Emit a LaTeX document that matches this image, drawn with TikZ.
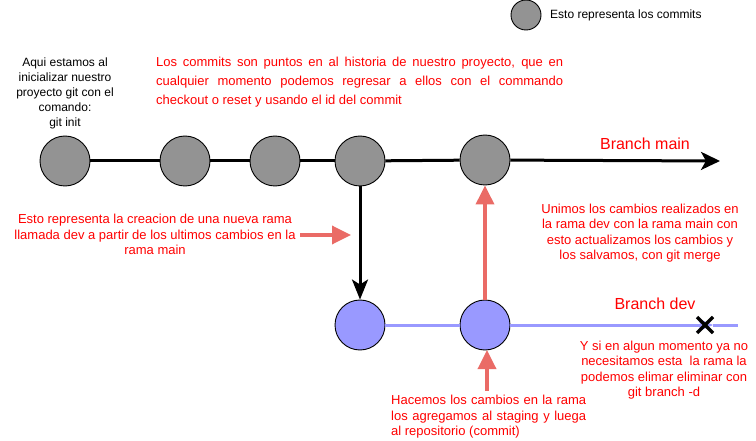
\documentclass[tikz,border=0pt]{standalone}
\usepackage{fontspec}
\setmainfont{Liberation Sans}
\usetikzlibrary{arrows.meta}
\definecolor{commitgray}{HTML}{939393}
\definecolor{devblue}{HTML}{9999FF}
\definecolor{notered}{HTML}{FF0000}
\definecolor{arrowred}{HTML}{EA6B66}
\begin{document}
\begin{tikzpicture}[x=1pt,y=-1pt,
  commit/.style={circle,draw=black,line width=0.9pt,fill=commitgray,minimum size=50pt,inner sep=0pt},
  devcommit/.style={circle,draw=black,line width=0.9pt,fill=devblue,minimum size=50pt,inner sep=0pt},
  mainline/.style={line width=3pt,black},
  devline/.style={line width=3pt,devblue},
  redarrow/.style={line width=3.5pt,arrowred,-{Triangle[length=19pt,width=18pt]}},
  txt/.style={inner sep=0pt,font=\fontsize{12}{15}\selectfont},
  redtxt/.style={inner sep=0pt,text=notered},
  branchlbl/.style={inner sep=0pt,text=notered,font=\fontsize{16}{19}\selectfont}]
\useasboundingbox (0,0) rectangle (756,441);
% legend
\node[commit,minimum size=30pt] (legend) at (526,15) {};
\node[txt,anchor=west] (legendtxt) at (550,15) {Esto representa los commits};
% main commits
\node[commit] (c1) at (65,161) {};
\node[commit] (c2) at (185,161) {};
\node[commit] (c3) at (275,161) {};
\node[commit] (c4) at (360,161) {};
\node[commit] (c5) at (485,160) {};
\coordinate (mainend) at (720,161);
\draw[mainline] (c1) -- (c2);
\draw[mainline] (c2) -- (c3);
\draw[mainline] (c3) -- (c4);
\draw[mainline] (c4) -- (c5);
\draw[mainline,-{Stealth[length=19pt,width=18pt,inset=5pt]}] (c5) -- (mainend);
% dev commits
\node[devcommit] (d1) at (360,325) {};
\node[devcommit] (d2) at (485,325) {};
\coordinate (devtip) at (713,325);
\coordinate (devend) at (738,325);
\draw[devline] (d1) -- (d2);
\draw[devline,-{Stealth[length=16pt,width=14pt,inset=4pt]}] (d2) -- (devtip);
\draw[devline] (devtip) -- (devend);
% X mark
\coordinate (xm) at (705,325);
\draw[line width=3.5pt,black] ([shift={(-8,-8)}]xm) -- ([shift={(8,8)}]xm);
\draw[line width=3.5pt,black] ([shift={(-8,8)}]xm) -- ([shift={(8,-8)}]xm);
% branching arrow
\draw[mainline,-{Stealth[length=20pt,width=16pt,inset=5pt]}] (c4) -- (d1);
% merge arrow
\draw[redarrow] (d2) -- (c5);
% red pointer arrows
\coordinate (hstart) at (300,235);
\coordinate (hend) at (351,235);
\draw[redarrow] (hstart) -- (hend);
\coordinate (vstart) at (487,391);
\coordinate (vend) at (487,350);
\draw[redarrow] (vstart) -- (vend);
% labels
\node[branchlbl] (bmain) at (645,144) {Branch main};
\node[branchlbl] (bdev) at (655,304) {Branch dev};
\node[txt,align=center,anchor=north] (init) at (65,58)
  {Aqui estamos al\\inicializar nuestro\\proyecto git con el\\comando:\\git init};
\node[redtxt,anchor=north west,align=left,font=\fontsize{13}{19}\selectfont] (para) at (156,57)
  {\makebox[407pt][s]{Los commits son puntos en al historia de nuestro proyecto, que en}\\
   \makebox[407pt][s]{cualquier momento podemos regresar a ellos con el commando}\\
   checkout o reset y usando el id del commit};
\node[redtxt,align=center,anchor=north,font=\fontsize{13}{15.5}\selectfont] (newbranch) at (155,214)
  {Esto representa la creacion de una nueva rama\\llamada dev a partir de los ultimos cambios en la\\rama main};
\node[redtxt,align=center,anchor=north,font=\fontsize{13}{15.3}\selectfont] (merge) at (640,204)
  {Unimos los cambios realizados en\\la rama dev con la rama main con\\esto actualizamos los cambios y\\los salvamos, con git merge};
\node[redtxt,align=center,anchor=north,font=\fontsize{13}{15.3}\selectfont] (delete) at (664,341)
  {Y si en algun momento ya no\\necesitamos esta\ \ la rama la\\podemos elimar eliminar con\\git branch -d};
\node[redtxt,align=left,anchor=north west,font=\fontsize{13}{15.5}\selectfont] (changes) at (391,395)
  {\makebox[195pt][s]{Hacemos los cambios en la rama}\\
   \makebox[195pt][s]{los agregamos al staging y luega}\\
   al repositorio (commit)};
\end{tikzpicture}
\end{document}
